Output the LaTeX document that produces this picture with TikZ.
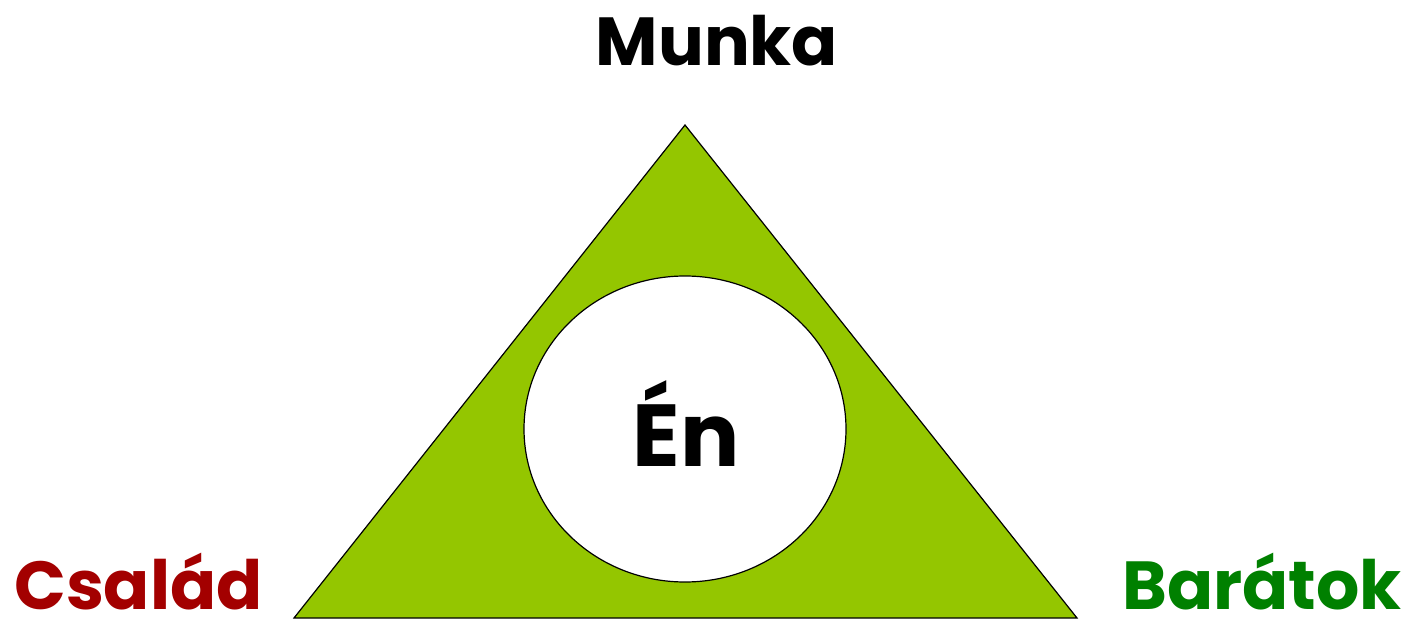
\documentclass[tikz,border=0pt]{standalone}
\usepackage{fontspec}
\usetikzlibrary{shapes.geometric}
\setmainfont{Poppins}
\definecolor{trigreen}{HTML}{94C600}
\definecolor{famred}{HTML}{A30000}
\definecolor{friendgreen}{HTML}{008000}
\begin{document}
\begin{tikzpicture}[x=1pt,y=-1pt,
  lbl/.style={font=\fontsize{68}{76}\selectfont\bfseries, inner sep=0pt},
  shape line/.style={draw=black, line width=1.2pt}]
\useasboundingbox (0,0) rectangle (1414,620);
\coordinate (top) at (685,125);
\coordinate (bl) at (294,618);
\coordinate (br) at (1077,618);
\filldraw[shape line, fill=trigreen] (top) -- (bl) -- (br) -- cycle;
\node[shape line, fill=white, ellipse, minimum width=322pt, minimum height=306pt, inner sep=0pt] (en) at (685,429) {};
\node[lbl, font=\fontsize{88}{96}\selectfont\bfseries, anchor=base] (entext) at (686,466) {Én};
\node[lbl, anchor=base] (munka) at (717,66) {Munka};
\node[lbl, anchor=base west, text=famred] (csalad) at (14,609) {Család};
\node[lbl, anchor=base east, text=friendgreen] (baratok) at (1402,609) {Barátok};
\end{tikzpicture}
\end{document}
